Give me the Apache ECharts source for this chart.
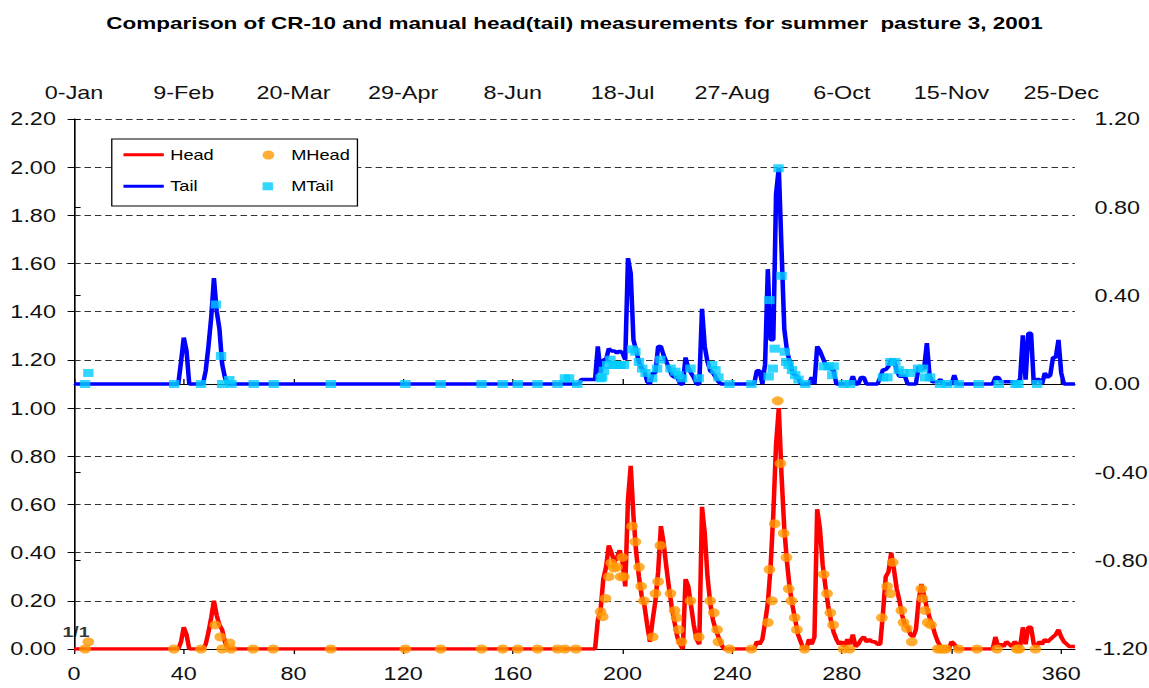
<!DOCTYPE html>
<html>
<head>
<meta charset="utf-8">
<title>CR-10 vs manual head(tail), summer pasture 3, 2001</title>
<script src="https://cdn.jsdelivr.net/npm/echarts@6/dist/echarts.min.js"></script>
<style>
  html, body { margin: 0; padding: 0; background: #fff; overflow: hidden; }
  /* the original picture is stretched sideways, so the chart is drawn narrower and widened */
  #main { width: 884px; height: 688px; transform: scaleX(1.2998); transform-origin: 0 0; }
</style>
</head>
<body>
<div id="main"></div>
<script>
// day-of-year ticks, bottom and top axis
var dayTicks = [0, 40, 80, 120, 160, 200, 240, 280, 320, 360]
var dateLabels = ['0-Jan', '9-Feb', '20-Mar', '29-Apr', '8-Jun', '18-Jul', '27-Aug', '6-Oct', '15-Nov', '25-Dec']

// CR-10 head, daily, day 0..365 (left axis)
var headDaily = [
  0, 0, 0, 0, 0, 0, 0, 0, 0, 0,
  0, 0, 0, 0, 0, 0, 0, 0, 0, 0,
  0, 0, 0, 0, 0, 0, 0, 0, 0, 0,
  0, 0, 0, 0, 0, 0, 0, 0, 0, 0.03,
  0.09, 0.06, 0, 0, 0, 0, 0, 0, 0.02, 0.07,
  0.13, 0.20, 0.14, 0.10, 0.08, 0.03, 0, 0, 0, 0,
  0, 0, 0, 0, 0, 0, 0, 0, 0, 0,
  0, 0, 0, 0, 0, 0, 0, 0, 0, 0,
  0, 0, 0, 0, 0, 0, 0, 0, 0, 0,
  0, 0, 0, 0, 0, 0, 0, 0, 0, 0,
  0, 0, 0, 0, 0, 0, 0, 0, 0, 0,
  0, 0, 0, 0, 0, 0, 0, 0, 0, 0,
  0, 0, 0, 0, 0, 0, 0, 0, 0, 0,
  0, 0, 0, 0, 0, 0, 0, 0, 0, 0,
  0, 0, 0, 0, 0, 0, 0, 0, 0, 0,
  0, 0, 0, 0, 0, 0, 0, 0, 0, 0,
  0, 0, 0, 0, 0, 0, 0, 0, 0, 0,
  0, 0, 0, 0, 0, 0, 0, 0, 0, 0,
  0, 0, 0, 0, 0, 0, 0, 0, 0, 0,
  0, 0.12, 0.16, 0.29, 0.34, 0.43, 0.40, 0.36, 0.38, 0.41,
  0.36, 0.26, 0.62, 0.76, 0.55, 0.40, 0.30, 0.22, 0.18, 0.10,
  0.03, 0.12, 0.20, 0.32, 0.51, 0.44, 0.34, 0.25, 0.17, 0.11,
  0.05, 0.02, 0, 0.29, 0.26, 0.18, 0.10, 0.04, 0.02, 0.59,
  0.48, 0.30, 0.19, 0.12, 0.08, 0.05, 0.02, 0, 0, 0,
  0, 0, 0, 0, 0, 0, 0, 0, 0, 0.03,
  0.02, 0.04, 0.11, 0.19, 0.34, 0.56, 0.85, 1.00, 0.72, 0.50,
  0.36, 0.25, 0.18, 0.12, 0.06, 0.03, 0, 0, 0.04, 0.02,
  0.05, 0.58, 0.50, 0.35, 0.26, 0.18, 0.12, 0.07, 0.04, 0.02,
  0.03, 0.01, 0.04, 0.02, 0.06, 0.01, 0.02, 0.04, 0.05, 0.03,
  0.04, 0.03, 0.03, 0.02, 0.02, 0.15, 0.30, 0.32, 0.40, 0.33,
  0.25, 0.20, 0.14, 0.10, 0.09, 0.06, 0.05, 0.08, 0.20, 0.27,
  0.22, 0.17, 0.13, 0.10, 0.06, 0.03, 0.01, 0, 0, 0,
  0.03, 0.02, 0, 0, 0, 0, 0, 0, 0, 0,
  0, 0, 0, 0, 0, 0, 0.05, 0.01, 0.02, 0.01,
  0.03, 0.02, 0.01, 0.03, 0.02, 0.01, 0.09, 0.02, 0.09, 0.09,
  0.02, 0.01, 0.03, 0.02, 0.04, 0.03, 0.04, 0.05, 0.06, 0.08,
  0.05, 0.03, 0.02, 0.01, 0.01, 0.01
]

// CR-10 tail, daily, day 0..365 (right axis)
var tailDaily = [
  0, 0, 0, 0, 0, 0, 0, 0, 0, 0,
  0, 0, 0, 0, 0, 0, 0, 0, 0, 0,
  0, 0, 0, 0, 0, 0, 0, 0, 0, 0,
  0, 0, 0, 0, 0, 0, 0, 0, 0, 0.10,
  0.21, 0.15, 0, 0, 0, 0, 0, 0, 0.06, 0.17,
  0.30, 0.48, 0.33, 0.25, 0.09, 0.03, 0, 0, 0, 0,
  0, 0, 0, 0, 0, 0, 0, 0, 0, 0,
  0, 0, 0, 0, 0, 0, 0, 0, 0, 0,
  0, 0, 0, 0, 0, 0, 0, 0, 0, 0,
  0, 0, 0, 0, 0, 0, 0, 0, 0, 0,
  0, 0, 0, 0, 0, 0, 0, 0, 0, 0,
  0, 0, 0, 0, 0, 0, 0, 0, 0, 0,
  0, 0, 0, 0, 0, 0, 0, 0, 0, 0,
  0, 0, 0, 0, 0, 0, 0, 0, 0, 0,
  0, 0, 0, 0, 0, 0, 0, 0, 0, 0,
  0, 0, 0, 0, 0, 0, 0, 0, 0, 0,
  0, 0, 0, 0, 0, 0, 0, 0, 0, 0,
  0, 0, 0, 0, 0, 0, 0, 0, 0, 0,
  0, 0, 0, 0, 0, 0.02, 0.02, 0.02, 0.02, 0.02,
  0.02, 0.17, 0.05, 0.11, 0.11, 0.16, 0.15, 0.15, 0.14, 0.15,
  0.14, 0.11, 0.57, 0.50, 0.20, 0.15, 0.10, 0.07, 0.06, 0.01,
  0, 0.05, 0.05, 0.17, 0.17, 0.13, 0.10, 0.07, 0.04, 0.03,
  0.03, 0, 0, 0.12, 0.07, 0.05, 0.03, 0, 0, 0.34,
  0.17, 0.10, 0.06, 0.05, 0.03, 0.01, 0, 0, 0, 0,
  0, 0, 0, 0, 0, 0, 0, 0, 0, 0.06,
  0.06, 0, 0.09, 0.52, 0.20, 0.20, 0.86, 0.98, 0.61, 0.25,
  0.15, 0.10, 0.05, 0.04, 0.03, 0, 0, 0, 0, 0.03,
  0, 0.17, 0.15, 0.12, 0.09, 0.07, 0.07, 0.06, 0, 0,
  0, 0, 0, 0, 0.035, 0, 0, 0.03, 0.03, 0,
  0, 0, 0, 0, 0.03, 0.065, 0.065, 0.08, 0.11, 0.11,
  0.06, 0.035, 0.035, 0.035, 0, 0, 0, 0, 0.08, 0.07,
  0.07, 0.185, 0.035, 0.01, 0.01, 0.01, 0.02, 0, 0, 0,
  0, 0.04, 0, 0, 0, 0, 0, 0, 0, 0,
  0, 0, 0, 0, 0, 0, 0.03, 0.03, 0.01, 0.01,
  0.01, 0.01, 0.01, 0.01, 0.01, 0.02, 0.22, 0.02, 0.23, 0.23,
  0, 0.02, 0.02, 0, 0.05, 0.03, 0.04, 0.12, 0.12, 0.20,
  0.05, 0, 0, 0, 0, 0
]

// manual head readings [day, value] (left axis)
var mHead = [
  [4, 0], [5.2, 0.03], [36.4, 0], [46.3, 0], [51.5, 0.10], [53.3, 0.05], [54, 0], [56.7, 0.025], [57.2, 0],
  [65.3, 0], [72.6, 0], [93.6, 0], [120.8, 0], [133.7, 0], [148.6, 0], [156.3, 0], [161.8, 0], [169, 0],
  [176.3, 0], [179, 0], [183, 0],
  [192, 0.155], [192.8, 0.134], [193.8, 0.21], [195, 0.30], [195.9, 0.357], [196.8, 0.336], [198, 0.34],
  [199.3, 0.30], [199.9, 0.38], [200.5, 0.30], [203.5, 0.51], [204.7, 0.445], [206, 0.34], [206.8, 0.26],
  [207.8, 0.20], [211, 0.05], [212, 0.23], [213, 0.28], [213.8, 0.43], [217.5, 0.23], [219, 0.16],
  [219.7, 0.13], [220.5, 0.08], [221.5, 0.03], [224.8, 0.20], [227.8, 0.05], [232, 0.20], [233.3, 0.15],
  [234.5, 0.08], [235, 0.03], [239, 0], [247, 0],
  [253, 0.11], [253.6, 0.33], [254.5, 0.20], [255.5, 0.52], [256.6, 1.03], [257.6, 0.77], [258.8, 0.48],
  [259.8, 0.38], [260.6, 0.25], [261.6, 0.20], [262.8, 0.13], [263.6, 0.08], [266.4, 0],
  [273.4, 0.31], [274.6, 0.23], [275.8, 0.15], [276.8, 0.10], [280.6, 0], [282.8, 0],
  [294.6, 0.13], [296.5, 0.26], [297.7, 0.23], [298.5, 0.36], [301.7, 0.16], [302.5, 0.11], [303.7, 0.086],
  [305.5, 0.03], [309, 0.25], [309.4, 0.21], [310.4, 0.16], [311.3, 0.11], [312.5, 0.10],
  [315, 0], [316, 0], [317, 0], [318, 0], [322.6, 0], [329.3, 0], [336.6, 0], [343.8, 0], [344.7, 0], [350.6, 0]
]

// manual tail readings [day, value] (right axis)
var mTail = [
  [4, 0], [5.2, 0.05], [36.5, 0], [46.3, 0], [51.7, 0.36], [53.6, 0.127], [54, 0], [56.6, 0.018], [57.4, 0],
  [65.5, 0], [72.8, 0], [93.6, 0], [120.8, 0], [133.7, 0], [148.6, 0], [156.3, 0], [161.8, 0], [169, 0],
  [176.3, 0], [179, 0.026], [180.5, 0.026], [183.5, 0],
  [192, 0.026], [192.6, 0.03], [193.2, 0.06], [194.4, 0.086], [195.6, 0.11], [196.8, 0.086], [198, 0.086],
  [199.3, 0.086], [200.5, 0.086], [203.5, 0.157], [204.7, 0.146], [206, 0.10], [207.2, 0.07], [208.4, 0.05],
  [210.8, 0.026], [212.6, 0.07], [213.8, 0.11], [217.5, 0.07], [219.3, 0.056], [220.5, 0.04], [221.7, 0.026],
  [224.8, 0.07], [227.8, 0.026], [232.7, 0.086], [233.9, 0.063], [235, 0.03], [239, 0], [247, 0],
  [253.3, 0.034], [253.6, 0.38], [254.8, 0.07], [255.5, 0.16], [256.9, 0.977], [258, 0.49], [259.2, 0.146],
  [259.7, 0.10], [260.6, 0.086], [261.8, 0.063], [263, 0.04], [264.2, 0.02], [266.7, 0],
  [273.4, 0.08], [275.2, 0.08], [276.5, 0.04], [277, 0.08], [280.6, 0], [283, 0],
  [295, 0.03], [296.6, 0.03], [297.7, 0.10], [299.5, 0.10], [300.7, 0.063], [302.5, 0.05], [305, 0.05],
  [307.8, 0.07], [309.6, 0.07], [310.4, 0.03], [312.2, 0.03], [315.8, 0], [318.4, 0],
  [322.6, 0], [329.9, 0], [337.2, 0], [343.3, 0], [344.4, 0], [351.2, 0]
]

var FONT = 'Liberation Sans, Arial, sans-serif'

function fmt2(v) {
  return (Math.abs(v) < 1e-9 ? 0 : v).toFixed(2)
}

function toPairs(arr) {
  return arr.map(function (v, i) { return [i, v] })
}

var chart = echarts.init(document.getElementById('main'), null, { renderer: 'svg' })

var mHeadData = mHead.map(function (p, i) {
  if (i !== 0) return p
  return {
    value: p,
    label: {
      show: true, formatter: '1/1', position: 'top', offset: [-7, 0],
      fontFamily: FONT, fontWeight: 'bold', fontSize: 15, color: '#000'
    }
  }
})

var axisText = { fontFamily: FONT, fontSize: 18, color: '#111' }
var legendText = { fontFamily: FONT, fontSize: 14, color: '#000' }

function xAxisBase(pos) {
  return {
    type: 'value',
    position: pos,
    min: 0,
    max: 365,
    interval: 40,
    axisLine: { show: true, lineStyle: { color: '#000', width: 1 } },
    axisTick: { show: true, length: 5, lineStyle: { color: '#000' } },
    splitLine: { show: false },
    axisLabel: Object.assign({}, axisText, {
      margin: pos === 'top' ? 17 : 16,
      showMaxLabel: false,
      formatter: function (v) {
        var idx = dayTicks.indexOf(v)
        if (idx < 0) return ''
        return pos === 'top' ? dateLabels[idx] : String(v)
      }
    })
  }
}

chart.setOption({
  animation: false,
  backgroundColor: '#fff',
  title: {
    text: 'Comparison of CR-10 and manual head(tail) measurements for summer  pasture 3, 2001',
    left: 'center',
    top: 14,
    padding: 0,
    textStyle: { fontFamily: FONT, fontSize: 17.3, fontWeight: 'bold', color: '#000' }
  },
  grid: { left: 57, right: 57, top: 119, bottom: 39, containLabel: false, outerBoundsMode: 'none' },
  graphic: [{
    type: 'rect',
    z: 5,
    shape: { x: 86, y: 139, width: 189, height: 67 },
    style: { fill: '#fff', stroke: '#000', lineWidth: 1 }
  }],
  legend: [
    { data: [{ name: 'Head', icon: 'rect' }], left: 95, top: 147.7, itemWidth: 31, itemHeight: 3, z: 6, padding: 0,
      textStyle: legendText },
    { data: [{ name: 'Tail', icon: 'rect' }], left: 95, top: 179.3, itemWidth: 31, itemHeight: 3, z: 6, padding: 0,
      textStyle: legendText },
    { data: ['MHead'], left: 202, top: 148, itemWidth: 9, itemHeight: 9, z: 6, padding: 0,
      textStyle: Object.assign({}, legendText, { padding: [0, 0, 0, 8] }) },
    { data: ['MTail'], left: 202, top: 179.3, itemWidth: 8, itemHeight: 8, z: 6, padding: 0,
      textStyle: Object.assign({}, legendText, { padding: [0, 0, 0, 9] }) }
  ],
  xAxis: [xAxisBase('bottom'), xAxisBase('top')],
  yAxis: [
    {
      type: 'value',
      position: 'left',
      min: 0,
      max: 2.2,
      interval: 0.2,
      axisLine: { show: true, lineStyle: { color: '#000', width: 1 } },
      axisTick: { show: true, length: 5, lineStyle: { color: '#000' } },
      splitLine: { show: true, lineStyle: { color: '#333', width: 1, type: [5, 3] } },
      axisLabel: Object.assign({}, axisText, { margin: 14, formatter: fmt2 })
    },
    {
      type: 'value',
      position: 'right',
      min: -1.2,
      max: 1.2,
      interval: 0.4,
      axisLine: { show: true, lineStyle: { color: '#000', width: 1 } },
      axisTick: { show: true, length: 5, lineStyle: { color: '#000' } },
      splitLine: { show: false },
      axisLabel: Object.assign({}, axisText, { margin: 15, formatter: fmt2 })
    }
  ],
  series: [
    {
      name: 'Head',
      type: 'line',
      xAxisIndex: 0,
      yAxisIndex: 0,
      data: toPairs(headDaily),
      symbol: 'none',
      color: '#ff0000',
      lineStyle: { color: '#ff0000', width: 3.5 },
      z: 2
    },
    {
      name: 'Tail',
      type: 'line',
      xAxisIndex: 0,
      yAxisIndex: 1,
      data: toPairs(tailDaily),
      symbol: 'none',
      color: '#0000ff',
      lineStyle: { color: '#0000ff', width: 3.5 },
      z: 2
    },
    {
      name: 'MHead',
      type: 'scatter',
      xAxisIndex: 0,
      yAxisIndex: 0,
      data: mHeadData,
      symbol: 'circle',
      symbolSize: 9,
      itemStyle: { color: '#ff9900' },
      z: 3
    },
    {
      name: 'MTail',
      type: 'scatter',
      xAxisIndex: 0,
      yAxisIndex: 1,
      data: mTail,
      symbol: 'rect',
      symbolSize: 8,
      itemStyle: { color: '#00ccff' },
      z: 3
    }
  ]
})
</script>
</body>
</html>
